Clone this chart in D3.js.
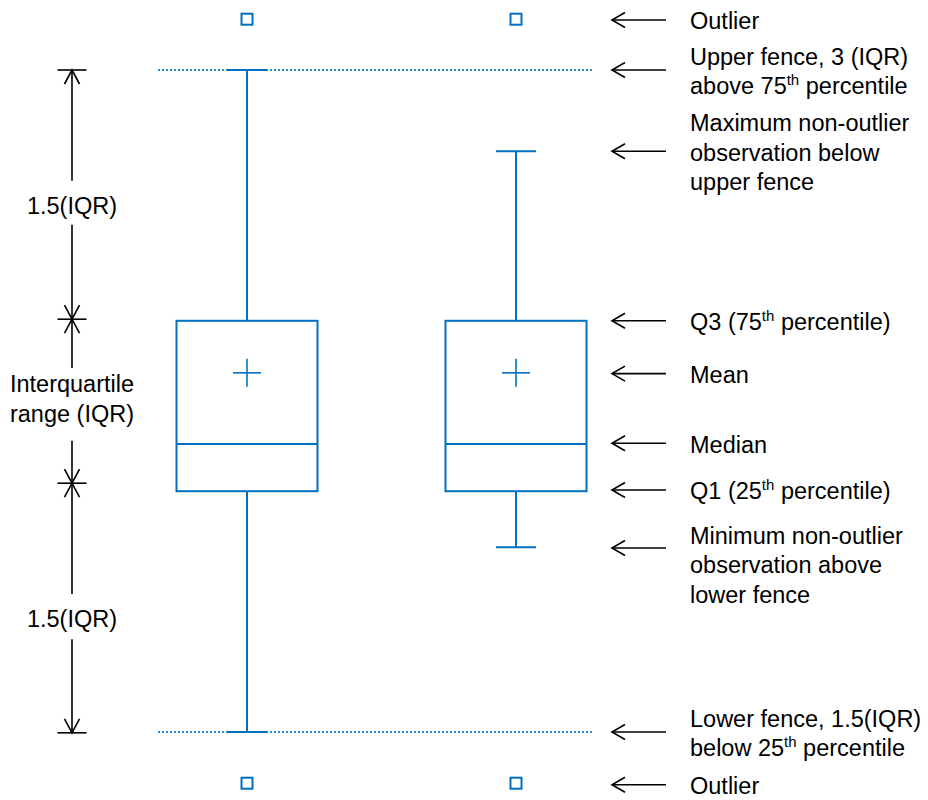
<!DOCTYPE html>
<html>
<head>
<meta charset="utf-8">
<script src="https://cdn.jsdelivr.net/npm/d3@7"></script>
<style>
  html, body { margin: 0; padding: 0; background: #fff; }
  text { font-family: "Liberation Sans", Arial, sans-serif; }
</style>
</head>
<body>
<svg id="chart" width="928" height="800"></svg>
<script>
// ---- data ----
const boxes        = ["A", "B"];
const q1Values     = [38.6, 38.6];
const q3Values     = [59.9, 59.9];
const medianValues = [44.5, 44.5];
const meanValues   = [53.4, 53.4];
const whiskerLow   = [8.5, 31.6];
const whiskerHigh  = [91.25, 81.1];
const outlierHigh  = [97.6, 97.6];
const outlierLow   = [2.1, 2.1];
const fenceValues  = [91.25, 8.5];

// left annotation: tick values and labels
const bracketTicks  = [91.25, 60.1, 39.6, 8.4];
const bracketLabels = [["1.5(IQR)"], ["Interquartile", "range (IQR)"], ["1.5(IQR)"]];
const bracketLabelValues = [74.4, 50.25, 22.75];
const bracketGaps = [[77.4, 71.9], [54, 44.9], [25.75, 20.1]];

// right annotation labels (each line is a list of [text, superscript?] parts)
const calloutValues = [97.5, 91.25, 81.1, 59.9, 53.3, 44.6, 38.75, 31.5, 8.5, 1.9];
const calloutLines = [
  [[["Outlier"]]],
  [[["Upper fence, 3 (IQR)"]], [["above 75"], ["th", true], [" percentile"]]],
  [[["Maximum non-outlier"]], [["observation below"]], [["upper fence"]]],
  [[["Q3 (75"], ["th", true], [" percentile)"]]],
  [[["Mean"]]],
  [[["Median"]]],
  [[["Q1 (25"], ["th", true], [" percentile)"]]],
  [[["Minimum non-outlier"]], [["observation above"]], [["lower fence"]]],
  [[["Lower fence, 1.5(IQR)"]], [["below 25"], ["th", true], [" percentile"]]],
  [[["Outlier"]]]
];

// ---- layout ----
const svg = d3.select("#chart");
const blue = "#0070C0";
const fs = 23.5;
const y = d3.scaleLinear().domain([0, 100]).range([800, 0]);
const x = d3.scalePoint().domain(boxes).range([247, 516]);
const boxHalf = 70.5, capHalf = 20, crossHalf = 14, sq = 11;

// fences (dotted)
svg.selectAll("line.fence").data(fenceValues).join("line")
  .attr("x1", 158).attr("x2", 594)
  .attr("y1", d => y(d)).attr("y2", d => y(d))
  .attr("stroke", "#2a88d6").attr("stroke-width", 2)
  .attr("stroke-dasharray", "2,2");

const g = svg.selectAll("g.box").data(boxes).join("g").attr("class", "box");

// whiskers
g.append("line")
  .attr("x1", d => x(d)).attr("x2", d => x(d))
  .attr("y1", (d, i) => y(whiskerHigh[i])).attr("y2", (d, i) => y(q3Values[i]))
  .attr("stroke", blue).attr("stroke-width", 2);
g.append("line")
  .attr("x1", d => x(d)).attr("x2", d => x(d))
  .attr("y1", (d, i) => y(q1Values[i])).attr("y2", (d, i) => y(whiskerLow[i]))
  .attr("stroke", blue).attr("stroke-width", 2);
// caps
[whiskerHigh, whiskerLow].forEach(arr => {
  g.append("line")
    .attr("x1", d => x(d) - capHalf).attr("x2", d => x(d) + capHalf)
    .attr("y1", (d, i) => y(arr[i])).attr("y2", (d, i) => y(arr[i]))
    .attr("stroke", blue).attr("stroke-width", 2);
});
// box
g.append("rect")
  .attr("x", d => x(d) - boxHalf).attr("width", boxHalf * 2)
  .attr("y", (d, i) => y(q3Values[i]))
  .attr("height", (d, i) => y(q1Values[i]) - y(q3Values[i]))
  .attr("fill", "none").attr("stroke", blue).attr("stroke-width", 2);
// median
g.append("line")
  .attr("x1", d => x(d) - boxHalf).attr("x2", d => x(d) + boxHalf)
  .attr("y1", (d, i) => y(medianValues[i])).attr("y2", (d, i) => y(medianValues[i]))
  .attr("stroke", blue).attr("stroke-width", 2);
// mean cross
g.append("line")
  .attr("x1", d => x(d) - crossHalf).attr("x2", d => x(d) + crossHalf)
  .attr("y1", (d, i) => y(meanValues[i])).attr("y2", (d, i) => y(meanValues[i]))
  .attr("stroke", blue).attr("stroke-width", 1.6);
g.append("line")
  .attr("x1", d => x(d)).attr("x2", d => x(d))
  .attr("y1", (d, i) => y(meanValues[i]) - crossHalf).attr("y2", (d, i) => y(meanValues[i]) + crossHalf)
  .attr("stroke", blue).attr("stroke-width", 1.6);
// outliers
[outlierHigh, outlierLow].forEach(arr => {
  g.append("rect")
    .attr("x", d => x(d) - sq / 2).attr("y", (d, i) => y(arr[i]) - sq / 2)
    .attr("width", sq).attr("height", sq)
    .attr("fill", "#fff").attr("stroke", blue).attr("stroke-width", 2);
});

// ---- left bracket annotation ----
const bx = 72, tickHalf = 14.5, ah = 14, aw = 7.5;
const left = svg.append("g").attr("stroke", "#000").attr("stroke-width", 1.6).attr("fill", "none");
bracketTicks.forEach(v => {
  left.append("line").attr("x1", bx - tickHalf).attr("x2", bx + tickHalf)
    .attr("y1", y(v)).attr("y2", y(v));
});
for (let s = 0; s < 3; s++) {
  const top = y(bracketTicks[s]), bot = y(bracketTicks[s + 1]);
  const gTop = y(bracketGaps[s][0]), gBot = y(bracketGaps[s][1]);
  left.append("line").attr("x1", bx).attr("x2", bx).attr("y1", top).attr("y2", gTop);
  left.append("line").attr("x1", bx).attr("x2", bx).attr("y1", gBot).attr("y2", bot);
  left.append("path").attr("d", `M${bx - aw},${top + ah} L${bx},${top} L${bx + aw},${top + ah}`);
  left.append("path").attr("d", `M${bx - aw},${bot - ah} L${bx},${bot} L${bx + aw},${bot - ah}`);
  const lines = bracketLabels[s];
  const cy = y(bracketLabelValues[s]);
  lines.forEach((t, i) => {
    svg.append("text").attr("x", bx).attr("y", cy + (i - (lines.length - 1) / 2) * 30)
      .attr("dy", "0.38em").attr("text-anchor", "middle")
      .attr("font-size", fs).attr("fill", "#000").text(t);
  });
}

// ---- right callouts ----
const ax1 = 612, ax2 = 666, tx = 690, lh = 29.5;
const blockShift = [0, 0, 0, 0, 0, 0, 0, 16, 0, 0];
calloutValues.forEach((v, k) => {
  const ay = y(v);
  svg.append("line").attr("x1", ax1).attr("x2", ax2).attr("y1", ay).attr("y2", ay)
    .attr("stroke", "#000").attr("stroke-width", 1.6);
  svg.append("path").attr("d", `M${ax1 + 13},${ay - 7.5} L${ax1},${ay} L${ax1 + 13},${ay + 7.5}`)
    .attr("fill", "none").attr("stroke", "#000").attr("stroke-width", 1.6);
  const lines = calloutLines[k];
  lines.forEach((parts, i) => {
    const t = svg.append("text").attr("x", tx)
      .attr("y", ay + blockShift[k] + (i - (lines.length - 1) / 2) * lh)
      .attr("dy", "0.4em").attr("font-size", fs).attr("fill", "#000");
    parts.forEach((p, j) => {
      const ts = t.append("tspan").text(p[0]);
      if (p[1]) ts.attr("font-size", 15).attr("dy", -9);
      else if (j > 0 && parts[j - 1][1]) ts.attr("dy", 9);
    });
  });
});
</script>
</body>
</html>
